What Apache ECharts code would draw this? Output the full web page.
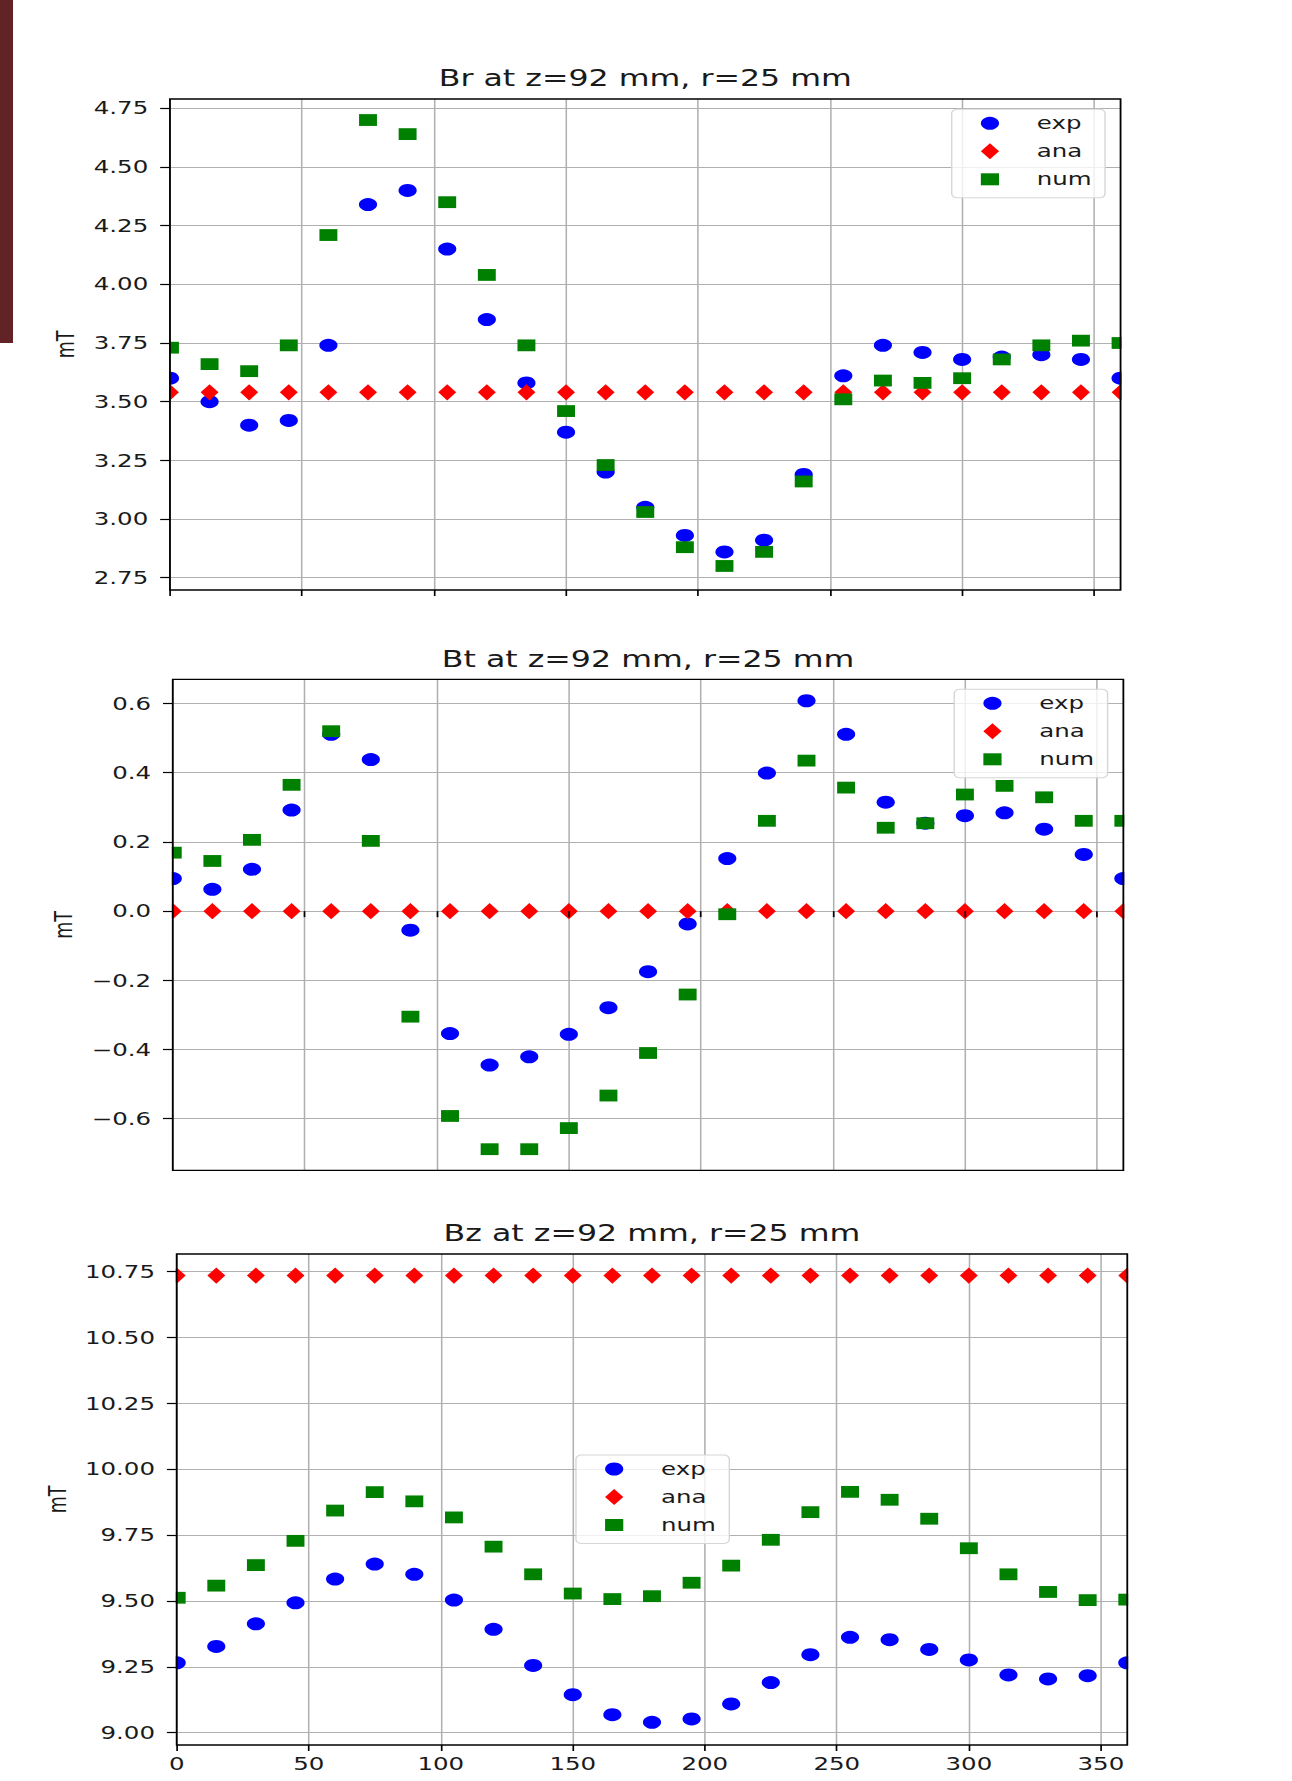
<!DOCTYPE html>
<html><head><meta charset="utf-8">
<script src="https://cdn.jsdelivr.net/npm/echarts@6/dist/echarts.min.js"></script>
<style>
html,body{margin:0;padding:0;background:#fff;overflow:hidden;}
#wrap{width:1292px;height:1781px;overflow:hidden;position:relative;background:#fff;}
#chart{width:923px;height:1781px;transform:scaleX(1.4);transform-origin:0 0;}
</style></head><body><div id="wrap"><div id="chart"></div></div>
<script>
// ---- data ----
const angles = [0,15,30,45,60,75,90,105,120,135,150,165,180,195,210,225,240,255,270,285,300,315,330,345,360];
const angleTicks = [0,50,100,150,200,250,300,350];

const titles = ['Br at z=92 mm, r=25 mm', 'Bt at z=92 mm, r=25 mm', 'Bz at z=92 mm, r=25 mm'];
const seriesNames = ['exp', 'ana', 'num'];
const yName = 'mT';

const brExp = [3.60,3.50,3.40,3.42,3.74,4.34,4.40,4.15,3.85,3.58,3.37,3.20,3.05,2.93,2.86,2.91,3.19,3.61,3.74,3.71,3.68,3.69,3.70,3.68,3.60];
const brAna = [3.54,3.54,3.54,3.54,3.54,3.54,3.54,3.54,3.54,3.54,3.54,3.54,3.54,3.54,3.54,3.54,3.54,3.54,3.54,3.54,3.54,3.54,3.54,3.54,3.54];
const brNum = [3.73,3.66,3.63,3.74,4.21,4.70,4.64,4.35,4.04,3.74,3.46,3.23,3.03,2.88,2.80,2.86,3.16,3.51,3.59,3.58,3.60,3.68,3.74,3.76,3.75];
const brTicks = [2.75,3.00,3.25,3.50,3.75,4.00,4.25,4.50,4.75];

const btExp = [0.094,0.063,0.121,0.292,0.511,0.438,-0.055,-0.354,-0.445,-0.421,-0.356,-0.279,-0.175,-0.037,0.152,0.399,0.608,0.511,0.315,0.254,0.276,0.284,0.237,0.164,0.094];
const btAna = [0,0,0,0,0,0,0,0,0,0,0,0,0,0,0,0,0,0,0,0,0,0,0,0,0];
const btNum = [0.169,0.145,0.206,0.365,0.520,0.203,-0.305,-0.592,-0.688,-0.688,-0.627,-0.533,-0.410,-0.241,-0.009,0.261,0.435,0.357,0.241,0.254,0.337,0.362,0.329,0.261,0.261];
const btTicks = [-0.6,-0.4,-0.2,0.0,0.2,0.4,0.6];

const bzExp = [9.265,9.327,9.413,9.493,9.583,9.640,9.601,9.503,9.392,9.255,9.144,9.068,9.039,9.052,9.109,9.190,9.296,9.362,9.353,9.316,9.276,9.219,9.204,9.216,9.265];
const bzAna = [10.735,10.735,10.735,10.735,10.735,10.735,10.735,10.735,10.735,10.735,10.735,10.735,10.735,10.735,10.735,10.735,10.735,10.735,10.735,10.735,10.735,10.735,10.735,10.735,10.735];
const bzNum = [9.512,9.558,9.636,9.728,9.843,9.913,9.878,9.817,9.706,9.601,9.528,9.507,9.518,9.569,9.634,9.732,9.837,9.914,9.884,9.812,9.700,9.601,9.534,9.503,9.505];
const bzTicks = [9.00,9.25,9.50,9.75,10.00,10.25,10.50,10.75];

// ---- layout / style ----
const FONT = 'DejaVu Sans';
const TXT = '#1a1a1a';
const panels = [
  {left:121.4, top:99,    yMin:2.6976, yMax:4.7896, ticks:brTicks, dec:2, nameGap:64, data:[brExp,brAna,brNum], legend:{left:679.8, top:109.3}},
  {left:123.4, top:679.3, yMin:-0.749, yMax:0.670,  ticks:btTicks, dec:1, nameGap:67, data:[btExp,btAna,btNum], legend:{left:681.6, top:689.3}},
  {left:126.2, top:1254,  yMin:8.953,  yMax:10.817, ticks:bzTicks, dec:2, nameGap:76, data:[bzExp,bzAna,bzNum], legend:{left:411.4, top:1455}}
];
const W = 679, H = 491;
const colors = ['#0000ff', '#ff0000', '#008000'];
const symbols = ['circle', 'diamond', 'path://M0,0H13V12H0Z'];
const sizes = [13, [12.8, 16.2], [12.8, 11.8]];
const GRIDLINE = {show: true, lineStyle: {color: '#b0b0b0', width: 1.1}};

const fmt = (dec) => (v) => Number(v).toFixed(dec).replace('-', '\u2212');

// masks that hide the parts of edge markers lying outside each plot box
const masks = [];
panels.forEach(p => {
  masks.push({type:'rect', z:6, silent:true, shape:{x:p.left - 12, y:p.top - 2, width:11.35, height:H + 4}, style:{fill:'#ffffff'}});
  masks.push({type:'rect', z:6, silent:true, shape:{x:p.left + W + 0.65, y:p.top - 2, width:12, height:H + 4}, style:{fill:'#ffffff'}});
});

const option = {
  backgroundColor: '#ffffff',
  animation: false,
  textStyle: {fontFamily: FONT},
  graphic: [{type:'rect', z:7, shape:{x:0, y:0, width:9.3, height:343}, style:{fill:'#622326'}, silent:true}].concat(masks),
  title: panels.map((p, i) => ({
    text: titles[i], left: p.left + W / 2, top: p.top - 32.5, textAlign: 'center', padding: 0,
    textStyle: {fontSize: 22.6, fontWeight: 'normal', color: TXT, fontFamily: FONT}
  })),
  grid: panels.map(p => ({left: p.left, top: p.top, width: W, height: H, show: true, z: 10, borderColor: '#000', borderWidth: 1.3, backgroundColor: 'rgba(0,0,0,0)', containLabel: false})),
  xAxis: panels.map((p, i) => ({
    type: 'value', gridIndex: i, min: 0, max: 360, z: 10,
    axisLine: {show: false},
    axisTick: {show: true, inside: false, length: 6, customValues: angleTicks, lineStyle: {color: '#000', width: 1.2}},
    axisLabel: {show: i === 2, customValues: angleTicks, margin: 10, fontSize: 17.5, color: TXT, fontFamily: FONT},
    splitLine: {show: false}
  })).concat(panels.map((p, i) => ({
    type: 'value', gridIndex: i, min: 0, max: 360, z: 0, position: 'bottom',
    axisLine: {show: false},
    axisTick: {show: false, customValues: angleTicks},
    axisLabel: {show: false, customValues: angleTicks},
    splitLine: GRIDLINE
  }))),
  yAxis: panels.map((p, i) => ({
    type: 'value', gridIndex: i, min: p.yMin, max: p.yMax, z: 10,
    name: yName, nameLocation: 'middle', nameRotate: 90, nameGap: p.nameGap,
    nameTextStyle: {fontSize: 17.5, color: TXT, fontFamily: FONT},
    axisLine: {show: false},
    axisTick: {show: true, inside: false, length: 7, customValues: p.ticks, lineStyle: {color: '#000', width: 1.2}},
    axisLabel: {show: true, customValues: p.ticks, margin: 15.5, fontSize: 17.5, color: TXT, fontFamily: FONT, formatter: fmt(p.dec)},
    splitLine: {show: false}
  })).concat(panels.map((p, i) => ({
    type: 'value', gridIndex: i, min: p.yMin, max: p.yMax, z: 0, position: 'left',
    axisLine: {show: false},
    axisTick: {show: false, customValues: p.ticks},
    axisLabel: {show: false, customValues: p.ticks},
    splitLine: GRIDLINE
  }))),
  legend: panels.map((p, i) => ({
    orient: 'vertical', left: p.legend.left, top: p.legend.top,
    data: seriesNames, selectedMode: false,
    itemWidth: 13, itemHeight: 16, itemGap: 10,
    padding: [5, 9.5, 9.5, 20.8],
    backgroundColor: 'rgba(255,255,255,0.8)', borderColor: '#d6d6d6', borderWidth: 1, borderRadius: 4,
    textStyle: {fontSize: 17.5, color: TXT, fontFamily: FONT, padding: [0, 0, 0, 22]},
    z: 12
  })),
  series: []
};

panels.forEach((p, i) => {
  for (let k = 0; k < 3; k++) {
    option.series.push({
      type: 'scatter', name: seriesNames[k], xAxisIndex: i, yAxisIndex: i,
      data: angles.map((a, j) => [a, p.data[k][j]]),
      symbol: symbols[k], symbolSize: sizes[k],
      itemStyle: {color: colors[k], opacity: 1},
      clip: true, emphasis: {disabled: true}, z: 2 + k
    });
  }
});

const chart = echarts.init(document.getElementById('chart'), null, {renderer: 'svg', width: 923, height: 1781});
chart.setOption(option);
</script>
</body></html>
